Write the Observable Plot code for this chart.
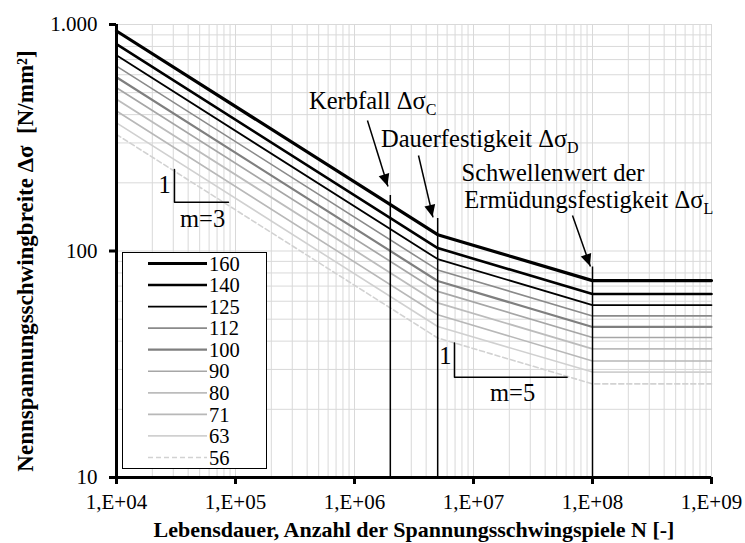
<!DOCTYPE html>
<html>
<head>
<meta charset="utf-8">
<script src="https://cdn.jsdelivr.net/npm/d3@7"></script>
<script src="https://cdn.jsdelivr.net/npm/@observablehq/plot@0.6"></script>
<style>
  body { margin: 0; background: #fff; }
  #chart { width: 745px; height: 543px; }
</style>
</head>
<body>
<div id="chart"></div>
<script>
// Detail categories (Kerbfall Δσ_C in N/mm²)
const categories = [160, 140, 125, 112, 100, 90, 80, 71, 63, 56];
// Cycle counts where each S-N curve changes direction
const cycles = [1e4, 5e6, 1e8, 1e9];
// Stress range at N = 1e4
const stressStart = [936, 819, 731, 655, 585, 526, 468, 415, 368, 327];
// Constant amplitude fatigue limit Δσ_D at N = 5e6
const stressD = [118, 103, 92.1, 82.5, 73.7, 66.3, 59.0, 52.3, 46.4, 41.3];
// Cut-off limit Δσ_L at N = 1e8 (constant beyond)
const stressL = [74.0, 64.6, 57.7, 51.7, 46.2, 41.5, 37.0, 32.7, 29.2, 25.9];

const xTicks = [1e4, 1e5, 1e6, 1e7, 1e8, 1e9];
const xTickLabels = ["1,E+04", "1,E+05", "1,E+06", "1,E+07", "1,E+08", "1,E+09"];
const yTicks = [10, 100, 1000];
const yTickLabels = ["10", "100", "1.000"];

// Marker lines at the characteristic cycle counts and the height they reach
const markerN = [2e6, 5e6, 1e8];
const markerTop = [176, 139, 85];

// Line appearance per category
const lineStyles = {
  160: {stroke: "#000000", width: 3.2},
  140: {stroke: "#000000", width: 2.6},
  125: {stroke: "#000000", width: 1.8},
  112: {stroke: "#8a8a8a", width: 1.6},
  100: {stroke: "#7f7f7f", width: 2.2},
  90:  {stroke: "#a6a6a6", width: 1.7},
  80:  {stroke: "#bcbcbc", width: 1.8},
  71:  {stroke: "#b8b8b8", width: 1.6},
  63:  {stroke: "#d0d0d0", width: 1.6},
  56:  {stroke: "#d2d2d2", width: 1.6, dash: "5,3"}
};

const rows = categories.flatMap((c, i) => [
  {cat: c, n: cycles[0], s: stressStart[i]},
  {cat: c, n: cycles[1], s: stressD[i]},
  {cat: c, n: cycles[2], s: stressL[i]},
  {cat: c, n: cycles[3], s: stressL[i]}
]);

// Log grid: every integer multiple within each decade
const gridX = [];
for (let e = 4; e < 9; e++) for (let k = 1; k < 10; k++) gridX.push(k * 10 ** e);
gridX.push(1e9);
const gridY = [];
for (let e = 1; e < 3; e++) for (let k = 1; k < 10; k++) gridY.push(k * 10 ** e);
gridY.push(1000);

// Slope triangles (vertical leg, then horizontal leg)
const slopeM3 = [{n: 3.07e4, s: 229}, {n: 3.07e4, s: 164}, {n: 8.73e4, s: 164}];
const slopeM5 = [{n: 6.92e6, s: 39.2}, {n: 6.92e6, s: 27.7}, {n: 6.12e7, s: 27.7}];

// Annotation texts: main text ends where the subscript starts
const notes = [
  {n: 3.97e6, s: 425, text: "Kerbfall Δσ", sub: "C"},
  {n: 6.12e7, s: 287, text: "Dauerfestigkeit Δσ", sub: "D"},
  {n: 8.57e8, s: 155.6, text: "Ermüdungsfestigkeit Δσ", sub: "L"}
];
const notesPlain = [{n: 7.93e6, s: 204.7, text: "Schwellenwert der"}];

// Arrows from labels to the markers
const arrows = [
  {n1: 1.285e6, s1: 376.7, n2: 1.912e6, s2: 192.7},
  {n1: 3.45e6, s1: 264, n2: 4.57e6, s2: 140.7},
  {n1: 6.79e7, s1: 143.6, n2: 9.61e7, s2: 85.4}
];

const serif = "'Liberation Serif', 'Times New Roman', serif";

const chart = Plot.plot({
  width: 745,
  height: 543,
  marginLeft: 116,
  marginRight: 34,
  marginTop: 24,
  marginBottom: 66,
  x: {type: "log", domain: [1e4, 1e9], axis: null},
  y: {type: "log", domain: [10, 1000], axis: null},
  style: {fontFamily: serif, fontSize: "21px", color: "#000", background: "#fff", overflow: "visible"},
  marks: [
    Plot.ruleX(gridX, {x: d => d, stroke: "#d9d9d9", strokeWidth: 1}),
    Plot.ruleY(gridY, {y: d => d, stroke: "#d9d9d9", strokeWidth: 1}),
    ...categories.slice().reverse().map(c => {
      const st = lineStyles[c];
      return Plot.line(rows.filter(r => r.cat === c), {
        x: "n", y: "s", stroke: st.stroke, strokeWidth: st.width,
        strokeDasharray: st.dash, strokeLinejoin: "miter"
      });
    }),
    Plot.ruleX(markerN, {x: d => d, y1: 10, y2: (d, i) => markerTop[i], stroke: "#000", strokeWidth: 1.5}),
    Plot.line(slopeM3, {x: "n", y: "s", stroke: "#000", strokeWidth: 1.5}),
    Plot.line(slopeM5, {x: "n", y: "s", stroke: "#000", strokeWidth: 1.5}),
    Plot.text([{n: 2.85e4, s: 196}], {x: "n", y: "s", text: () => "1", textAnchor: "end", fontSize: 24.5}),
    Plot.text([{n: 5.29e4, s: 137.7}], {x: "n", y: "s", text: () => "m=3", fontSize: 24.5}),
    Plot.text([{n: 6.53e6, s: 34.2}], {x: "n", y: "s", text: () => "1", textAnchor: "end", fontSize: 24.5}),
    Plot.text([{n: 2.13e7, s: 23.5}], {x: "n", y: "s", text: () => "m=5", fontSize: 24.5}),
    Plot.text(notes, {x: "n", y: "s", text: "text", textAnchor: "end", lineAnchor: "bottom", fontSize: 24.5}),
    Plot.text(notes, {x: "n", y: "s", text: "sub", textAnchor: "start", lineAnchor: "bottom", dy: 6, fontSize: 16}),
    Plot.text(notesPlain, {x: "n", y: "s", text: "text", textAnchor: "start", lineAnchor: "bottom", fontSize: 24.5}),
    Plot.link(arrows, {x1: "n1", y1: "s1", x2: "n2", y2: "s2", stroke: "#000", strokeWidth: 1.5}),
    // axes
    Plot.ruleX(xTicks, {x: d => d, insetTop: 453, insetBottom: -7, stroke: "#000", strokeWidth: 3}),
    Plot.ruleY(yTicks, {y: d => d, insetLeft: -7, insetRight: 595, stroke: "#000", strokeWidth: 3}),
    Plot.ruleX([1e4], {x: d => d, stroke: "#000", strokeWidth: 3}),
    Plot.ruleY([10], {y: d => d, stroke: "#000", strokeWidth: 3}),
    Plot.text(xTicks, {x: d => d, frameAnchor: "bottom", dy: 17, lineAnchor: "top", text: (d, i) => xTickLabels[i]}),
    Plot.text(yTicks, {y: d => d, frameAnchor: "left", dx: -19, textAnchor: "end", text: (d, i) => yTickLabels[i]}),
    Plot.text(["Lebensdauer, Anzahl der Spannungsschwingspiele N [-]"], {
      text: d => d, frameAnchor: "bottom", dy: 59, lineAnchor: "bottom", textAnchor: "middle",
      fontWeight: "bold", fontSize: 22
    }),
    Plot.text(["Nennspannungsschwingbreite Δσ\u00a0 [N/mm²]"], {
      text: d => d, frameAnchor: "left", dx: -84, dy: 10, rotate: -90, lineAnchor: "bottom",
      textAnchor: "middle", fontWeight: "bold", fontSize: 23
    })
  ]
});

document.getElementById("chart").appendChild(chart);

// Scale helpers from the plot's own scales
function scaleFn(name) {
  const s = chart.scale(name);
  if (s && typeof s.apply === "function") return v => s.apply(v);
  return d3.scaleLog(s.domain, s.range);
}
const sx = scaleFn("x");
const sy = scaleFn("y");
const svg = d3.select(chart);

// Filled arrowheads at the arrow tips
const heads = svg.append("g");
arrows.forEach(a => {
  const x1 = sx(a.n1), y1 = sy(a.s1), x2 = sx(a.n2), y2 = sy(a.s2);
  const len = Math.hypot(x2 - x1, y2 - y1);
  const ux = (x2 - x1) / len, uy = (y2 - y1) / len;
  const L = 12, W = 5.5;
  const bx = x2 - ux * L, by = y2 - uy * L;
  heads.append("path")
    .attr("d", `M${x2},${y2}L${bx - uy * W},${by + ux * W}L${bx + uy * W},${by - ux * W}Z`)
    .attr("fill", "#000");
});

// Legend box in the lower left of the frame
const lg = svg.append("g")
  .attr("font-family", serif).attr("font-size", 20.5).attr("text-anchor", "start");
lg.append("rect")
  .attr("x", 122.5).attr("y", 252.5).attr("width", 144).attr("height", 216)
  .attr("fill", "#fff").attr("stroke", "#000").attr("stroke-width", 1);
categories.forEach((c, i) => {
  const st = lineStyles[c];
  const y = 263.5 + i * 21.55;
  lg.append("line")
    .attr("x1", 148).attr("x2", 207).attr("y1", y).attr("y2", y)
    .attr("stroke", st.stroke).attr("stroke-width", st.width)
    .attr("stroke-dasharray", st.dash || null);
  lg.append("text").attr("x", 209).attr("y", y).attr("dy", "0.35em")
    .attr("text-anchor", "start").text(c);
});
</script>
</body>
</html>
